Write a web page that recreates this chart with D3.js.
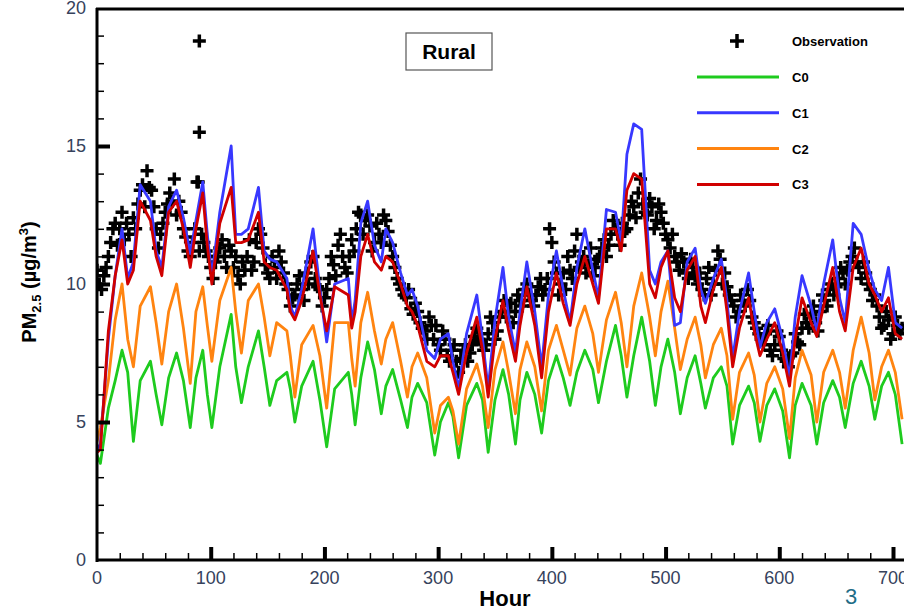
<!DOCTYPE html>
<html>
<head>
<meta charset="utf-8">
<script src="https://cdn.jsdelivr.net/npm/d3@7"></script>
<style>
  body { margin: 0; background: #fff; }
  svg { display: block; font-family: "Liberation Sans", Arial, sans-serif; }
</style>
</head>
<body>
<div id="chart"></div>
<script>
// key hours (daily troughs / rises / peaks / falls)
const hours = [0, 3, 10, 16, 22, 27,
  32, 38, 47, 52, 57, 63, 70, 76, 82, 87, 93, 97, 101, 108, 118, 122,
  127, 133, 142, 147, 152, 158, 167, 170, 174, 180, 190, 196, 202, 209, 221, 224,
  227, 232, 238, 244, 250, 254, 260, 267, 273, 277, 282, 290, 297, 302, 309, 313,
  318, 325, 334, 339, 344, 350, 357, 362, 368, 372, 378, 385, 391, 397, 404, 410,
  416, 422, 429, 436, 441, 448, 456, 461, 466, 472, 479, 486, 491, 496, 502, 508,
  513, 519, 526, 531, 535, 542, 549, 554, 559, 565, 573, 578, 583, 589, 596, 603,
  609, 614, 620, 628, 633, 639, 647, 653, 658, 665, 672, 679, 684, 690, 696, 702, 708];

const c0 = [3.8, 3.5, 5.5, 6.5, 7.6, 6.8,
  4.3, 6.5, 7.2, 6.0, 4.9, 6.6, 7.5, 6.5, 4.8, 6.6, 7.6, 6.0, 4.8, 7.0, 8.9, 7.0,
  5.7, 7.0, 8.3, 7.0, 5.6, 6.5, 6.8, 6.2, 5.0, 6.3, 7.2, 5.8, 4.1, 6.2, 6.8, 6.0,
  4.9, 6.6, 7.9, 6.9, 5.3, 6.3, 6.9, 5.8, 4.8, 5.9, 6.4, 5.7, 3.8, 5.0, 5.7, 5.2,
  3.7, 5.6, 6.4, 5.8, 3.9, 5.8, 6.9, 6.0, 4.2, 5.8, 6.8, 6.0, 4.6, 6.5, 7.4, 6.6,
  5.6, 6.8, 7.6, 6.9, 5.7, 7.2, 8.5, 7.4, 5.9, 7.4, 8.8, 7.2, 5.6, 7.0, 8.0, 6.8,
  5.3, 6.6, 7.4, 6.4, 5.5, 6.6, 7.0, 6.3, 4.2, 5.6, 6.3, 5.7, 4.3, 5.6, 6.2, 5.4,
  3.7, 5.6, 6.4, 5.6, 4.2, 5.7, 6.5, 5.9, 4.8, 6.4, 7.2, 6.3, 5.1, 6.3, 6.8, 6.0, 4.2];

const c1 = [4.0, 4.2, 8.0, 10.3, 12.0, 10.2,
  10.8, 13.6, 13.0, 11.2, 10.6, 12.8, 13.4, 12.4, 11.1, 12.3, 13.7, 11.8, 10.3, 12.6, 15.0, 11.8,
  11.8, 12.0, 13.5, 11.2, 10.9, 10.8, 10.2, 9.2, 8.8, 9.8, 12.0, 9.8, 7.9, 10.0, 10.2, 8.6,
  9.4, 12.2, 13.0, 11.4, 10.8, 12.0, 11.5, 10.4, 9.6, 9.8, 9.2, 7.6, 7.3, 8.0, 8.2, 7.2,
  6.2, 8.2, 9.6, 8.0, 6.2, 8.7, 10.6, 8.8, 7.5, 9.0, 10.8, 9.0, 7.0, 9.6, 11.2, 9.8,
  8.6, 10.6, 12.0, 10.5, 9.5, 12.7, 12.6, 11.5, 14.7, 15.8, 15.6, 10.5, 10.0, 10.8, 11.2, 8.5,
  8.6, 10.8, 11.3, 9.8, 9.3, 10.2, 10.9, 9.4, 7.3, 9.0, 10.4, 9.0, 7.7, 8.6, 9.1, 8.0,
  6.6, 8.8, 10.3, 9.2, 8.3, 10.0, 11.6, 9.5, 8.6, 12.2, 11.8, 10.5, 9.8, 9.4, 10.6, 8.6, 8.4];

const c2 = [4.3, 4.8, 6.5, 8.7, 10.0, 8.0,
  7.0, 9.2, 9.9, 8.6, 7.1, 9.0, 10.0, 8.4, 6.4, 9.0, 9.9, 8.5, 7.2, 9.4, 10.6, 9.0,
  7.5, 9.4, 10.0, 8.8, 7.4, 8.6, 8.3, 7.4, 5.9, 7.8, 8.5, 7.4, 5.5, 8.6, 8.6, 7.3,
  6.3, 8.6, 9.7, 8.3, 7.1, 8.0, 8.6, 7.2, 5.9, 7.0, 7.5, 6.6, 4.6, 5.6, 5.9, 5.4,
  4.2, 6.2, 7.1, 6.3, 4.8, 6.9, 7.9, 6.8, 5.3, 6.9, 7.9, 7.0, 5.4, 7.6, 8.5, 7.6,
  6.7, 8.4, 9.2, 8.2, 6.8, 8.7, 9.7, 8.6, 7.0, 9.2, 10.4, 8.8, 7.4, 9.0, 10.1, 8.4,
  6.9, 8.0, 8.8, 7.8, 6.6, 7.8, 8.4, 7.4, 5.1, 6.8, 7.5, 6.7, 5.0, 6.4, 7.0, 6.2,
  4.4, 6.6, 7.6, 6.7, 5.0, 6.8, 7.6, 6.8, 5.5, 7.6, 8.8, 7.5, 5.8, 7.0, 7.6, 6.8, 5.1];

const c3 = [3.9, 4.0, 8.3, 10.3, 11.6, 10.0,
  10.5, 13.0, 12.3, 11.0, 10.3, 12.6, 13.0, 12.0, 10.6, 12.0, 13.3, 11.4, 10.0, 12.2, 13.5, 11.5,
  11.5, 11.6, 12.6, 10.8, 10.6, 10.5, 9.8, 9.0, 8.7, 9.4, 11.2, 9.6, 8.3, 9.9, 9.6, 8.4,
  9.0, 11.0, 11.8, 10.8, 10.5, 11.0, 10.8, 10.0, 9.2, 9.0, 8.5, 7.2, 7.0, 7.4, 7.4, 6.8,
  6.0, 7.5, 8.8, 7.6, 5.9, 8.0, 9.4, 8.3, 7.2, 8.5, 9.9, 8.5, 6.6, 9.0, 10.4, 9.3,
  8.5, 10.0, 11.0, 10.0, 9.3, 12.0, 12.0, 11.2, 13.4, 14.0, 13.8, 10.0, 9.5, 10.6, 11.2, 9.5,
  9.0, 10.5, 11.0, 9.2, 8.6, 9.8, 10.6, 9.0, 7.0, 8.4, 9.5, 8.3, 7.4, 8.0, 8.6, 7.5,
  6.3, 8.0, 9.5, 8.6, 8.1, 9.2, 10.6, 9.0, 8.3, 10.6, 11.3, 10.0, 9.6, 9.0, 9.5, 8.2, 8.0];

// observations, every 4 hours from hour 0
const obsHours = d3.range(0, 709, 4);
const obs = [10.5, 9.8, 10.6, 11.5, 12.2, 12.0, 11.6, 11.8, 12.4, 12.9, 13.6, 14.1,
  13.4, 12.0, 11.8, 12.6, 13.3, 13.8, 13.0, 12.0, 11.2, 11.5, 13.7, 11.8,
  11.2, 10.6, 10.8, 11.3, 11.0, 11.4, 10.6, 10.3, 10.8, 11.0, 10.5, 11.5,
  11.8, 10.7, 10.2, 10.6, 11.2, 10.4, 9.8, 9.5, 10.0, 9.8, 10.4, 10.8,
  10.2, 9.8, 9.5, 10.2, 10.7, 11.4, 11.0, 10.4, 11.6, 12.0, 12.5, 12.3,
  12.1, 11.5, 11.8, 12.5, 11.9, 11.0, 10.2, 9.8, 9.5, 9.1, 9.3, 8.6,
  8.3, 8.8, 8.0, 7.8, 8.3, 7.4, 7.6, 7.2, 7.3, 7.8, 7.5, 8.1,
  8.0, 7.6, 8.2, 8.6, 8.3, 9.0, 8.8, 9.3, 9.0, 9.4, 9.8, 9.6,
  9.2, 9.9, 9.6, 10.2, 11.5, 10.4, 10.0, 9.8, 10.5, 11.2, 10.6, 11.0,
  10.7, 10.3, 10.9, 11.3, 11.0, 11.8, 12.0, 11.4, 11.9, 12.5, 12.8, 13.3,
  12.9, 12.5, 12.8, 12.3, 12.6, 11.8, 11.3, 11.0, 10.5, 10.8, 10.2, 10.6,
  10.0, 9.8, 10.2, 9.6, 10.5, 10.9, 10.4, 9.6, 9.2, 9.0, 9.4, 9.8,
  8.8, 8.4, 8.0, 8.2, 7.6, 7.8, 8.1, 7.3, 7.0, 7.5, 7.9, 8.4,
  8.6, 8.9, 8.6, 9.0, 9.4, 9.8, 9.6, 10.2, 10.4, 10.5, 11.0, 10.8,
  10.2, 10.4, 9.8, 9.6, 8.8, 8.5, 8.7, 8.2, 8.5, 8.4];
// observations, every 4 hours from hour 2
const obsHoursB = d3.range(2, 707, 4);
const obsB = [10.0, 10.3, 11.0, 12.0, 11.4, 12.6, 12.2, 11.0, 12.0, 13.4, 12.8, 13.5,
  12.8, 11.3, 12.2, 12.9, 13.0, 12.5, 12.6, 11.7, 11.0, 12.0, 11.2, 11.5,
  11.0, 10.2, 11.0, 11.6, 10.6, 11.2, 11.0, 10.0, 10.5, 11.6, 10.8, 12.0,
  11.3, 10.4, 11.0, 10.2, 10.8, 10.0, 9.2, 9.6, 10.3, 9.4, 10.0, 11.0,
  9.9, 9.2, 9.8, 11.0, 10.3, 11.8, 10.6, 11.0, 11.2, 12.6, 11.8, 12.5,
  11.2, 12.2, 11.5, 12.3, 11.4, 10.6, 10.0, 9.6, 9.8, 8.9, 9.0, 8.4,
  8.0, 8.5, 8.5, 7.6, 8.0, 7.2, 7.8, 6.8, 7.6, 7.2, 7.8, 8.4,
  7.9, 7.8, 8.8, 8.0, 8.8, 9.4, 9.0, 8.6, 9.6, 9.2, 10.0, 9.4,
  9.6, 10.2, 9.8, 12.0, 10.8, 9.6, 10.4, 11.0, 10.2, 11.8, 10.8, 10.4,
  11.3, 10.6, 11.0, 11.6, 11.4, 12.3, 11.8, 12.2, 12.0, 13.0, 12.4, 13.8,
  12.6, 13.1, 12.0, 12.9, 12.2, 11.6, 11.8, 10.8, 11.1, 10.4, 10.9, 10.3,
  10.4, 9.6, 10.6, 10.0, 11.2, 10.0, 9.9, 9.4, 8.8, 9.6, 9.2, 9.4,
  8.6, 8.2, 7.8, 8.5, 7.4, 8.3, 7.6, 7.2, 7.4, 8.2, 7.8, 8.9,
  8.4, 9.2, 8.3, 9.6, 9.2, 10.0, 9.9, 10.6, 10.0, 10.8, 11.3, 10.6,
  10.8, 10.0, 9.4, 9.2, 8.4, 9.0, 8.0, 8.8, 8.2];
// outlying observations
const obsExtraHours = [90, 90, 89];
const obsExtra = [18.8, 15.5, 13.7];

const seriesNames = ["C0", "C1", "C2", "C3"];
const seriesColors = ["#1ecb1e", "#3838ff", "#ff8410", "#d00000"];
const seriesValues = [c0, c1, c2, c3];
const drawOrder = [0, 2, 1, 3];

const xTicks = [0, 100, 200, 300, 400, 500, 600, 700];
const yTicks = [0, 5, 10, 15, 20];

const W = 904, H = 613;
const svg = d3.select("#chart").append("svg").attr("width", W).attr("height", H);

const x = d3.scaleLinear().domain([0, 700]).range([97, 893]);
const y = d3.scaleLinear().domain([0, 20]).range([560, 8]);

svg.append("defs").append("clipPath").attr("id", "plot")
  .append("rect").attr("x", 97).attr("y", 8).attr("width", W - 97).attr("height", 552);

const plot = svg.append("g").attr("clip-path", "url(#plot)");

// observation crosses
const cross = (g, px, py, s) => {
  g.append("path")
    .attr("d", `M${px - s},${py}H${px + s}M${px},${py - s}V${py + s}`)
    .attr("stroke", "#000").attr("stroke-width", 3.5).attr("fill", "none");
};
const obsG = plot.append("g");
obsHours.forEach((h, i) => cross(obsG, x(h), y(obs[i]), 6.5));
obsHoursB.forEach((h, i) => cross(obsG, x(h), y(obsB[i]), 6.5));
obsExtraHours.forEach((h, i) => cross(obsG, x(h), y(obsExtra[i]), 6.5));

// model lines
const line = d3.line().x((d, i) => x(hours[i])).y(d => y(d));
drawOrder.forEach(k => {
  plot.append("path")
    .datum(seriesValues[k])
    .attr("d", line)
    .attr("fill", "none")
    .attr("stroke", seriesColors[k])
    .attr("stroke-width", 2.8)
    .attr("stroke-linejoin", "round");
});

// axes frame
svg.append("line").attr("x1", 96).attr("x2", W).attr("y1", 9).attr("y2", 9)
  .attr("stroke", "#000").attr("stroke-width", 3);
svg.append("line").attr("x1", 97).attr("x2", 97).attr("y1", 8).attr("y2", 562)
  .attr("stroke", "#000").attr("stroke-width", 3);
svg.append("line").attr("x1", 96).attr("x2", W).attr("y1", 560).attr("y2", 560)
  .attr("stroke", "#000").attr("stroke-width", 3);

// y ticks
const yAxis = d3.axisRight(y).tickValues(d3.range(1, 20)).tickSize(7).tickFormat("");
const yg = svg.append("g").attr("transform", "translate(97,0)").call(yAxis);
yg.select(".domain").remove();
yg.selectAll(".tick line").attr("stroke-width", 1.5)
  .filter(d => d % 5 === 0).attr("x2", 13).attr("stroke-width", 4);

svg.append("g").selectAll("text").data(yTicks).join("text")
  .attr("x", 86).attr("y", d => y(d)).attr("dy", "0.36em")
  .attr("text-anchor", "end").attr("font-size", 18).attr("fill", "#36425c")
  .text(d => d);

// x ticks
const xAxis = d3.axisTop(x).tickValues(d3.range(20, 720, 20)).tickSize(7).tickFormat("");
const xg = svg.append("g").attr("transform", "translate(0,560)").call(xAxis);
xg.select(".domain").remove();
xg.selectAll(".tick line").attr("stroke-width", 1.5)
  .filter(d => d % 100 === 0).attr("y2", -13).attr("stroke-width", 4);

svg.append("g").selectAll("text").data(xTicks).join("text")
  .attr("x", d => x(d)).attr("y", 584)
  .attr("text-anchor", "middle").attr("font-size", 18).attr("fill", "#36425c")
  .text(d => d);

// axis titles
svg.append("text").attr("x", 505).attr("y", 606).attr("text-anchor", "middle")
  .attr("font-size", 22).attr("font-weight", "bold").text("Hour");

const yt = svg.append("text").attr("transform", "translate(36,282) rotate(-90)")
  .attr("text-anchor", "middle").attr("font-size", 20).attr("font-weight", "bold");
yt.append("tspan").text("PM");
yt.append("tspan").attr("font-size", 13).attr("dy", 5).text("2.5");
yt.append("tspan").attr("dy", -5).text(" (\u00b5g/m");
yt.append("tspan").attr("font-size", 13).attr("dy", -8).text("3");
yt.append("tspan").attr("dy", 8).text(")");

// "Rural" box
svg.append("rect").attr("x", 406).attr("y", 33).attr("width", 86).attr("height", 37)
  .attr("fill", "#fff").attr("stroke", "#555").attr("stroke-width", 1.2);
svg.append("text").attr("x", 449).attr("y", 59).attr("text-anchor", "middle")
  .attr("font-size", 21).attr("font-weight", "bold").text("Rural");

// legend
const leg = svg.append("g");
cross(leg, 737, 41, 7);
leg.append("text").attr("x", 792).attr("y", 46).attr("font-size", 13)
  .attr("font-weight", "bold").text("Observation");
seriesNames.forEach((name, i) => {
  const ly = 77 + i * 35.8;
  leg.append("line").attr("x1", 697).attr("x2", 779).attr("y1", ly).attr("y2", ly)
    .attr("stroke", seriesColors[i]).attr("stroke-width", 3);
  leg.append("text").attr("x", 792).attr("y", ly + 5).attr("font-size", 13)
    .attr("font-weight", "bold").text(name);
});

// page number
svg.append("text").attr("x", 851).attr("y", 604).attr("text-anchor", "middle")
  .attr("font-size", 22).attr("fill", "#1f6d87").text("3");
</script>
</body>
</html>
